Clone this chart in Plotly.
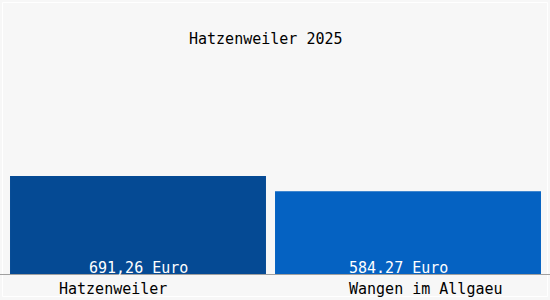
import plotly.graph_objects as go

categories = ["Hatzenweiler", "Wangen im Allgaeu"]
values = [691.26, 584.27]
value_labels = ["691,26 Euro", "584.27 Euro"]
title_text = "Hatzenweiler 2025"
colors = ["#054a94", "#0562c2"]

W, H = 550, 300
L, R, T, B = 3, 7, 55, 25
plot_h = H - T - B
ymax = max(values) * plot_h / 99.0

font = "DejaVu Sans Mono"

fig = go.Figure()
fig.add_trace(go.Bar(
    x=categories, y=values, marker=dict(color=colors, line=dict(width=0)),
    hoverinfo="skip", width=[0.948, 0.985],
))

def py(pix):
    return (H - B - pix) / plot_h

annotations = []
value_xshift = [0, -9.5]
for c, lab, xs in zip(categories, value_labels, value_xshift):
    annotations.append(dict(
        x=c, xref="x", y=py(267.5), yref="paper", text=lab, showarrow=False,
        xanchor="center", yanchor="middle", xshift=xs,
        font=dict(family=font, size=15, color="white"),
    ))
label_px = [113, 426]
for c, px in zip(categories, label_px):
    annotations.append(dict(
        x=(px - L) / (W - L - R), xref="paper", y=py(288.5), yref="paper",
        text=c, showarrow=False, xanchor="center", yanchor="middle",
        font=dict(family=font, size=15, color="black"),
    ))
annotations.append(dict(
    x=(265.5 - L) / (W - L - R), xref="paper", y=py(38.5), yref="paper",
    text=title_text, showarrow=False, xanchor="center", yanchor="middle",
    font=dict(family=font, size=15, color="black"),
))

pw = W - L - R
shapes = [
    dict(type="rect", xref="paper", yref="paper",
         x0=(2.5 - L) / pw, x1=(547.5 - L) / pw,
         y0=py(H - 3.5), y1=py(2.5),
         line=dict(color="white", width=1), fillcolor="rgba(0,0,0,0)", layer="below"),
    dict(type="line", xref="paper", yref="paper",
         x0=(0 - L) / pw, x1=(W - L) / pw, y0=py(274.5), y1=py(274.5),
         line=dict(color="#a0a0a0", width=1)),
]

fig.update_layout(
    width=W, height=H,
    margin=dict(l=L, r=R, t=T, b=B, pad=0),
    paper_bgcolor="#f7f7f7", plot_bgcolor="#f7f7f7",
    showlegend=False, bargap=0.052,
    xaxis=dict(visible=False, range=[-0.5, 1.5]),
    yaxis=dict(visible=False, range=[0, ymax]),
    annotations=annotations, shapes=shapes,
)

fig.write_html("out.html")
